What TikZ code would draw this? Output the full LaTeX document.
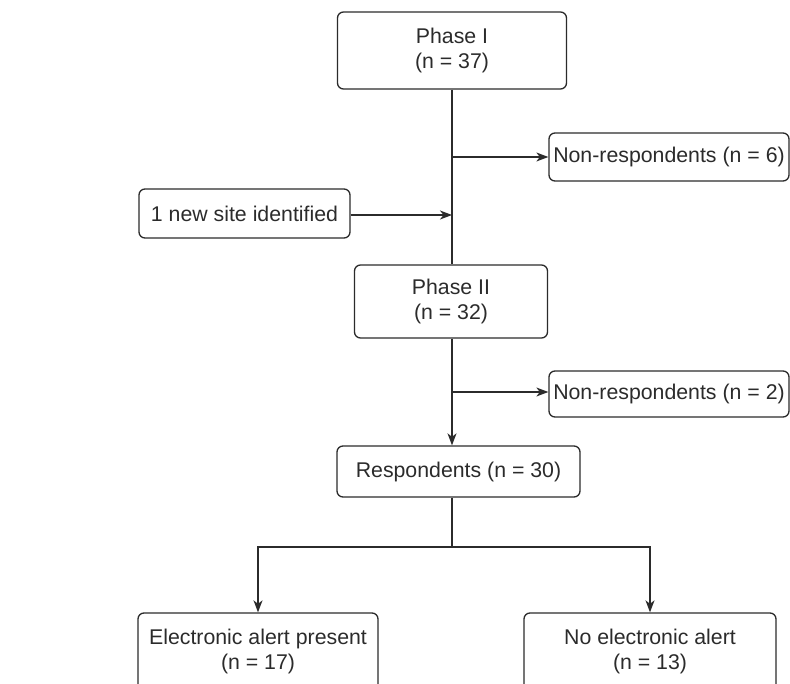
\documentclass[tikz,border=0pt]{standalone}
\usepackage{fontspec}
\setmainfont{Liberation Sans}
\usetikzlibrary{arrows.meta}
\definecolor{ink}{HTML}{2B2B2B}
\begin{document}
\begin{tikzpicture}[x=1pt,y=-1pt,
  box/.style={draw=ink, line width=1.3pt, rounded corners=6pt, align=center,
    inner sep=0pt, text=ink, font=\fontsize{21.3}{25}\selectfont},
  conn/.style={draw=ink, line width=1.3pt},
  arr/.style={conn, -{Stealth[length=12pt,width=9pt,inset=3.5pt]}}]
\useasboundingbox (0,0) rectangle (790,684);
% nodes
\node[box, minimum width=229pt, minimum height=77pt] (p1) at (452,50.5) {Phase I\\(n = 37)};
\node[box, minimum width=240pt, minimum height=48pt] (nr6) at (669,157) {Non-respondents (n = 6)};
\node[box, minimum width=211pt, minimum height=49pt] (site) at (244.5,213.5) {1 new site identified};
\node[box, minimum width=193pt, minimum height=73pt] (p2) at (451,301.5) {Phase II\\(n = 32)};
\node[box, minimum width=240pt, minimum height=46pt] (nr2) at (669,394) {Non-respondents (n = 2)};
\node[box, minimum width=243pt, minimum height=51pt] (resp) at (458.5,471.5) {Respondents (n = 30)};
\node[box, minimum width=240pt, minimum height=77pt] (ea) at (258,651.5) {Electronic alert present\\(n = 17)};
\node[box, minimum width=252pt, minimum height=77pt] (ne) at (650,651.5) {No electronic alert\\(n = 13)};
% junction points on the trunk
\coordinate (j1) at (452,157);
\coordinate (j2) at (452,215);
\coordinate (j3) at (452,392);
\coordinate (split) at (452,547);
% connectors
\draw[conn] (p1.south) -- (p1.south |- p2.north);
\draw[arr] (j1) -- (nr6.west |- j1);
\draw[arr] (site.east |- j2) -- (j2);
\draw[arr] (j3 |- p2.south) -- (j3 |- resp.north);
\draw[arr] (j3) -- (nr2.west |- j3);
\draw[conn] (split |- resp.south) -- (split);
\draw[arr] (split) -| (ea.north);
\draw[arr] (split) -| (ne.north);
\end{tikzpicture}
\end{document}
